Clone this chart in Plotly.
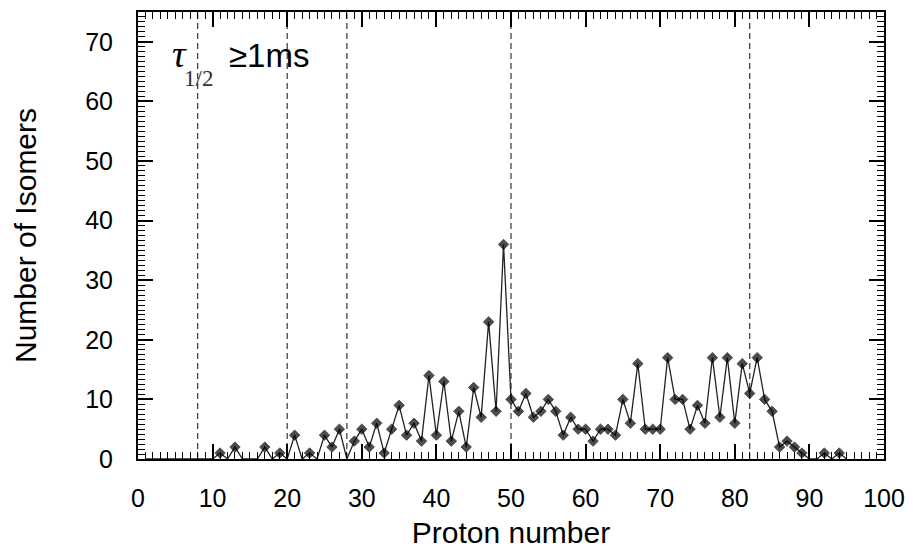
import plotly.graph_objects as go

# Proton number Z and number of isomers (t1/2 >= 1 ms)
proton_number = list(range(1, 96))
isomer_count = [
    0, 0, 0, 0, 0, 0, 0, 0, 0, 0,
    1, 0, 2, 0, 0, 0, 2, 0, 1, 0,
    4, 0, 1, 0, 4, 2, 5, 0, 3, 5,
    2, 6, 1, 5, 9, 4, 6, 3, 14, 4,
    13, 3, 8, 2, 12, 7, 23, 8, 36, 10,
    8, 11, 7, 8, 10, 8, 4, 7, 5, 5,
    3, 5, 5, 4, 10, 6, 16, 5, 5, 5,
    17, 10, 10, 5, 9, 6, 17, 7, 17, 6,
    16, 11, 17, 10, 8, 2, 3, 2, 1, 0,
    0, 1, 0, 1, 0,
]
magic_numbers = [8, 20, 28, 50, 82]
x_ticks = [0, 10, 20, 30, 40, 50, 60, 70, 80, 90, 100]
y_ticks = [0, 10, 20, 30, 40, 50, 60, 70]

SANS = "Liberation Sans, Arial, sans-serif"
SERIF = "Liberation Serif, Times New Roman, serif"

# zero entries sit on the axis line, no visible marker there
marker_sizes = [0 if v == 0 else 8 for v in isomer_count]

fig = go.Figure()
fig.add_trace(go.Scatter(
    x=proton_number, y=isomer_count, mode="lines+markers",
    line=dict(color="#222", width=1.3),
    marker=dict(symbol="diamond", size=marker_sizes, color="black",
                line=dict(color="black", width=1)),
    showlegend=False,
))

for z in magic_numbers:
    fig.add_shape(type="line", xref="x", yref="paper", x0=z, x1=z, y0=0, y1=1,
                  line=dict(color="#333", width=1.2, dash="6px,4px"), layer="below")

fig.add_annotation(text="<i>τ</i>", xref="paper", yref="paper", x=0.056, y=0.906,
                   xanchor="center", yanchor="middle", showarrow=False,
                   font=dict(family=SERIF, size=38, color="black"))
fig.add_annotation(text="1/2", xref="paper", yref="paper", x=0.081, y=0.852,
                   xanchor="center", yanchor="middle", showarrow=False,
                   font=dict(family=SERIF, size=23, color="#333"))
fig.add_annotation(text="≥1ms", xref="paper", yref="paper", x=0.176, y=0.903,
                   xanchor="center", yanchor="middle", showarrow=False,
                   font=dict(family=SANS, size=33, color="black"))

axis_common = dict(
    showline=True, linecolor="black", linewidth=2, mirror="allticks",
    ticks="inside", tickcolor="black", tickwidth=1.5, ticklen=15,
    showgrid=False, zeroline=False,
    tickfont=dict(family=SANS, size=25, color="black"),
)

fig.update_xaxes(
    range=[0, 100], tickvals=x_ticks, ticklabelstandoff=16,
    minor=dict(dtick=1, ticks="inside", ticklen=7, tickcolor="black", tickwidth=1.2, showgrid=False),
    title=dict(text="Proton number", font=dict(family=SANS, size=30, color="black"), standoff=14),
    **axis_common,
)
fig.update_yaxes(
    range=[0, 75], tickvals=y_ticks, ticklabelstandoff=18,
    minor=dict(tick0=0, dtick=10 / 12, ticks="inside", ticklen=7, tickcolor="black", tickwidth=1.2, showgrid=False),
    title=dict(text="Number of Isomers", font=dict(family=SANS, size=30, color="black"), standoff=40),
    **axis_common,
)

# page body adds an 8px margin, so the figure is sized to fit the window
fig.update_layout(
    width=905, height=541,
    margin=dict(l=130, r=29, t=2, b=89),
    paper_bgcolor="white", plot_bgcolor="white",
)

fig.write_html("out.html")
